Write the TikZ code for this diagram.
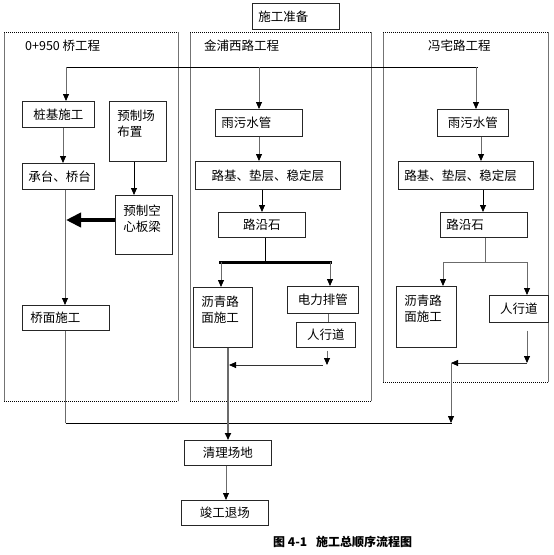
\documentclass[tikz,border=0pt]{standalone}
\usepackage{fontspec}
\setmainfont{Noto Sans CJK SC}
\usetikzlibrary{arrows.meta,calc}
\definecolor{ln}{gray}{0.42}
\tikzset{
  every node/.style={font=\fontsize{12.5}{16.5}\selectfont},
  bx/.style={draw=black!85, line width=0.7pt, anchor=north west, inner xsep=6pt, inner ysep=0pt},
  ml/.style={bx, inner xsep=8pt, align=left},
  conn/.style={draw=ln, line width=0.8pt, -{Triangle[width=6pt,length=7pt,color=black]}},
  plain/.style={draw=ln, line width=0.8pt},
  sideline/.style={draw=black!55, line width=0.8pt},
  dashline/.style={draw=black, line width=0.8pt, dash pattern=on 1.2pt off 0.8pt},
  ttl/.style={anchor=west, inner sep=0pt}
}
\begin{document}
\begin{tikzpicture}[x=1pt,y=-1pt]
\useasboundingbox (0,0) rectangle (554,555);
% group frames
\draw[sideline] (4,32) -- (4,401) (178,32) -- (178,401);
\draw[dashline] (4,32) -- (178,32) (4,401) -- (178,401);
\draw[sideline] (190,32) -- (190,401) (371,32) -- (371,401);
\draw[dashline] (190,32) -- (371,32) (190,401) -- (371,401);
\draw[sideline] (383,32) -- (383,382) (548,32) -- (548,382);
\draw[dashline] (383,32) -- (548,32) (383,382) -- (548,382);
% titles
\node[ttl] (t1) at (25,46) {0+950 桥工程};
\node[ttl] (t2) at (204,46) {金浦西路工程};
\node[ttl] (t3) at (428,46) {冯宅路工程};
% boxes
\node[bx, minimum height=26pt, text width=75pt, align=left] (prep) at (252,3) {施工准备};
\node[bx, minimum height=26pt, text width=60pt, align=center] (zj) at (22,101) {桩基施工};
\node[ml, text width=41pt, text height=19pt, text depth=41pt] (yzc) at (109,101) {预制场\\布置};
\node[bx, minimum height=26pt, text width=60pt, align=center] (ct) at (22,163) {承台、桥台};
\node[ml, text width=41pt, text height=20pt, text depth=39pt] (kxb) at (115,195) {预制空\\心板梁};
\node[bx, inner xsep=8pt, minimum height=25pt, text width=71pt, align=left] (qm) at (22,305) {桥面施工};
\node[bx, minimum height=27pt, text width=75pt, align=left] (m1) at (215,109) {雨污水管};
\node[bx, minimum height=28pt, text width=133pt, align=center] (m2) at (195,161) {路基、垫层、稳定层};
\node[bx, minimum height=25pt, text width=75pt, align=center] (m3) at (218,212) {路沿石};
\node[ml, text width=43pt, text height=19pt, text depth=41pt] (m4) at (193,287) {沥青路\\面施工};
\node[bx, minimum height=27pt, text width=59pt, align=center] (m5) at (287,286) {电力排管};
\node[bx, minimum height=25pt, text width=47pt, align=center] (m6) at (296,322) {人行道};
\node[bx, minimum height=27pt, text width=59pt, align=center] (r1) at (437,109) {雨污水管};
\node[bx, minimum height=28pt, text width=123pt, align=left] (r2) at (398,161) {路基、垫层、稳定层};
\node[bx, minimum height=25pt, text width=75pt, align=left] (r3) at (440,212) {路沿石};
\node[ml, text width=44pt, text height=19pt, text depth=42pt] (r4) at (396,286) {沥青路\\面施工};
\node[bx, minimum height=27pt, text width=47pt, align=center] (r5) at (489,295) {人行道};
\node[bx, minimum height=25pt, text width=75pt, align=center] (ql) at (184,440) {清理场地};
\node[bx, minimum height=25pt, text width=75pt, align=center] (jg) at (181,500) {竣工退场};
% caption
\node[ttl, font=\fontsize{12}{14}\selectfont\bfseries] (cap) at (273,542) {图 4-1\hspace{9pt}施工总顺序流程图};
% coordinates
\coordinate (tl) at (66,67);
\coordinate (tm) at (259,67);
\coordinate (tr) at (476,67);
\coordinate (tre) at (478,67);
\coordinate (lx1) at (63,0);
\coordinate (lx2) at (134,0);
\coordinate (j1) at (66,220);
\coordinate (lx3) at (65,0);
\coordinate (b1) at (65.5,423);
\coordinate (b2) at (452,423);
\coordinate (mx2) at (262,0);
\coordinate (bl) at (219,262);
\coordinate (br) at (332,262);
\coordinate (bm) at (265,262);
\coordinate (mx4) at (221,0);
\coordinate (mx5) at (330,0);
\coordinate (vx) at (328,0);
\coordinate (j3) at (327,365);
\coordinate (j3s) at (323,365);
\coordinate (j4) at (229,365);
\coordinate (vq) at (228,0);
\coordinate (jx) at (226,0);
\coordinate (rx1) at (481,0);
\coordinate (rx2) at (483,0);
\coordinate (rx3) at (485,0);
\coordinate (rbl) at (443,262);
\coordinate (rbr) at (527,262);
\coordinate (j5) at (527,363);
\coordinate (j6) at (451,363);
\coordinate (j7) at (451,423);
% top distribution line
\draw[black, line width=0.8pt] (tl) -- (tre);
\draw[conn] (tl) -- (zj.north -| tl);
\draw[conn] (tm) -- (m1.north -| tm);
\draw[conn] (tr) -- (r1.north -| tr);
% left column
\draw[conn] (zj.south -| lx1) -- (ct.north -| lx1);
\draw[conn, draw=black] (yzc.south -| lx2) -- (kxb.north -| lx2);
\draw[black, line width=4pt, -{Triangle[width=14pt,length=15pt]}] (kxb.west |- j1) -- (j1);
\draw[conn] (ct.south -| lx3) -- (qm.north -| lx3);
\draw[plain] (qm.south -| b1) -- (b1);
\draw[black, line width=0.8pt] (b1) -- (b2);
% middle column
\draw[conn] (m1.south -| tm) -- (m2.north -| tm);
\draw[conn, draw=black] (m2.south -| mx2) -- (m3.north -| mx2);
\draw[black, line width=0.8pt] (m3.south -| bm) -- (bm);
\draw[black, line width=3pt] (bl) -- (br);
\draw[conn] (bl -| mx4) -- (m4.north -| mx4);
\draw[conn] (br -| mx5) -- (m5.north -| mx5);
\draw[plain] (m5.south -| vx) -- (m6.north -| vx);
\draw[conn] ($(m6.south -| j3)+(0,3)$) -- (j3);
\draw[conn, draw=black!80] (j3s) -- (j4);
\draw[draw=ln, line width=1.6pt, -{Triangle[width=6pt,length=7pt,color=black]}] (m4.south -| vq) -- (ql.north -| vq);
\draw[conn] (ql.south -| jx) -- (jg.north -| jx);
% right column
\draw[conn] (r1.south -| rx1) -- (r2.north -| rx1);
\draw[conn, draw=black] (r2.south -| rx2) -- (r3.north -| rx2);
\draw[plain] (r3.south -| rx3) -- (rx3 |- rbl);
\draw[plain] (rbl) -- (rbr);
\draw[conn] (rbl) -- (r4.north -| rbl);
\draw[conn] (rbr) -- (r5.north -| rbr);
\draw[conn] ($(r5.south -| rbr)+(0,8)$) -- (j5);
\draw[conn, draw=black!80] (j5) -- (j6);
\draw[conn] (j6) -- (j7);
\end{tikzpicture}
\end{document}
